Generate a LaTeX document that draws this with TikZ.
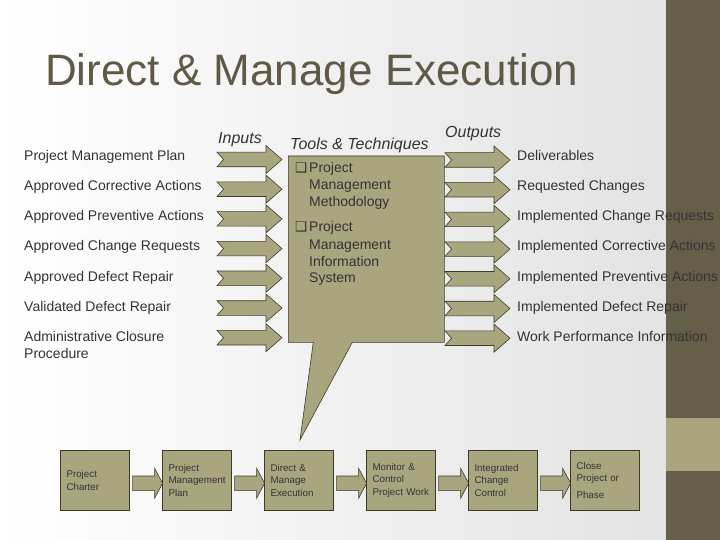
\documentclass[tikz,border=0pt]{standalone}
\usepackage{fontspec}
\setmainfont{Liberation Sans}
\newfontfamily\symfont{DejaVu Sans}
\definecolor{boxolive}{HTML}{A9A57F}
\definecolor{edgedark}{HTML}{3D3A2A}
\definecolor{banddark}{HTML}{655E49}
\definecolor{titlecol}{HTML}{5F5946}
\definecolor{labelcol}{HTML}{333333}
\definecolor{bgright}{HTML}{E3E3E3}
\begin{document}
\begin{tikzpicture}[x=1pt,y=-1pt,
  shapefill/.style={fill=boxolive,draw=edgedark,line width=0.6pt,line join=miter},
  lbl/.style={anchor=base west,inner sep=0pt,text=labelcol,font=\fontsize{14}{17}\selectfont},
  head/.style={anchor=base west,inner sep=0pt,text=labelcol,font=\fontsize{16}{18}\selectfont\itshape},
  ctext/.style={anchor=base west,inner sep=0pt,text=labelcol,font=\fontsize{14}{17}\selectfont},
  procbox/.style={shapefill,minimum width=69.4pt,minimum height=60pt,inner sep=0pt,
     text width=57pt,align=left,text=labelcol,font=\fontsize{9.8}{12.5}\selectfont},
  inarr/.pic={\path[shapefill] (0,-7.3) -- (49,-7.3) -- (49,-14) -- (65,0) -- (49,14) -- (49,7.3) -- (0,7.3) -- (6.5,0) -- cycle;},
  smallarr/.pic={\path[shapefill] (0,-7.3) -- (22,-7.3) -- (22,-15) -- (30,0) -- (22,15) -- (22,7.3) -- (0,7.3) -- cycle;}
]
\useasboundingbox (0,0) rectangle (720,540);
% background
\shade[left color=white,right color=bgright] (0,0) rectangle (666,540);
\fill[banddark] (666,0) rectangle (720,540);
\fill[boxolive] (666,418) rectangle (720,471);
% title
\node[anchor=base west,inner sep=0pt,text=titlecol,font=\fontsize{44}{50}\selectfont] (title) at (45,86) {Direct \& Manage Execution};
% headings
\node[head] (inputs) at (218,144) {Inputs};
\node[head] (tools) at (290,150) {Tools \& Techniques};
\node[head] (outputs) at (445,138) {Outputs};
% input arrows
\foreach \k in {0,...,6} {
  \pic at (217,{159.5+29.7*\k}) {inarr};
}
% callout
\path[shapefill] (288.3,156) -- (444.3,156) -- (444.3,342.3) -- (352.3,342.3) -- (300,440) -- (313.3,342.3) -- (288.3,342.3) -- cycle;
\coordinate (callouttip) at (300,440);
% output arrows
\foreach \k in {0,...,6} {
  \pic at (445,{160+29.7*\k}) {inarr};
}
% callout text
\node[ctext] (c1) at (295,173) {\makebox[14pt][l]{\symfont\fontsize{13.5}{15}\selectfont ❑}Project};
\node[ctext] (c2) at (309,190) {Management};
\node[ctext] (c3) at (309,207) {Methodology};
\node[ctext] (c4) at (295,232) {\makebox[14pt][l]{\symfont\fontsize{13.5}{15}\selectfont ❑}Project};
\node[ctext] (c5) at (309,249) {Management};
\node[ctext] (c6) at (309,266) {Information};
\node[ctext] (c7) at (309,282) {System};
% input labels
\node[lbl] (i1) at (24,161) {Project Management Plan};
\node[lbl] (i2) at (24,191) {Approved Corrective Actions};
\node[lbl] (i3) at (24,221) {Approved Preventive Actions};
\node[lbl] (i4) at (24,251) {Approved Change Requests};
\node[lbl] (i5) at (24,281) {Approved Defect Repair};
\node[lbl] (i6) at (24,311) {Validated Defect Repair};
\node[lbl] (i7) at (24,341) {Administrative Closure};
\node[lbl] (i8) at (24,358) {Procedure};
% output labels
\node[lbl] (o1) at (517,161) {Deliverables};
\node[lbl] (o2) at (517,191) {Requested Changes};
\node[lbl] (o3) at (517,221) {Implemented Change Requests};
\node[lbl] (o4) at (517,251) {Implemented Corrective Actions};
\node[lbl] (o5) at (517,281) {Implemented Preventive Actions};
\node[lbl] (o6) at (517,311) {Implemented Defect Repair};
\node[lbl] (o7) at (517,341) {Work Performance Information};
% process boxes
\node[procbox] (b1) at (95,480.3) {Project\\Charter};
\node[procbox] (b2) at (197,480.3) {Project\\Management\\Plan};
\node[procbox] (b3) at (299,480.3) {Direct \&\\Manage\\Execution};
\node[procbox] (b4) at (401,480.3) {Monitor \&\\Control\\Project Work};
\node[procbox] (b5) at (503,480.3) {Integrated\\Change\\Control};
\node[procbox] (b6) at (605,480.3) {Close\\Project or\\[4pt]Phase};
\foreach \a/\b in {b1/b2,b2/b3,b3/b4,b4/b5,b5/b6} {
  \pic at ([shift={(2.6,3)}]\a.east) {smallarr};
}
\end{tikzpicture}
\end{document}
